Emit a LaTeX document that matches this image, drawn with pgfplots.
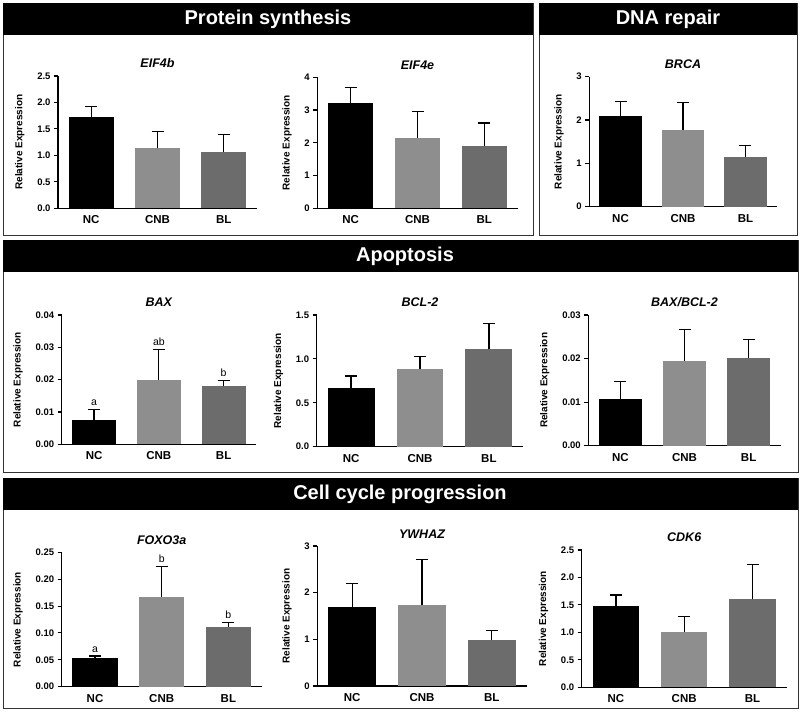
\documentclass[border=0pt]{standalone}
\usepackage{fontspec}
\setmainfont{Liberation Sans}
\usepackage{pgfplots}
\pgfplotsset{compat=1.18}

\definecolor{cnbgray}{RGB}{142,142,142}
\definecolor{blgray}{RGB}{108,108,108}

\pgfplotsset{
  panel/.style={
    scale only axis, anchor=south west,
    xmin=-0.5, xmax=2.5, ymin=0, enlargelimits=false,
    axis x line*=bottom, axis y line*=left,
    axis line style={line width=1.3pt, black},
    xtick={0,1,2}, xticklabels={NC,CNB,BL},
    xtick style={draw=none},
    ytick style={line width=1.1pt, black},
    tick align=outside, major tick length=4pt,
    xticklabel style={font=\fontsize{11.5}{13}\selectfont\bfseries},
    yticklabel style={font=\fontsize{9.5}{11}\selectfont\bfseries},
    /pgf/number format/assume math mode=true,
    scaled y ticks=false,
    ylabel={Relative Expression},
    ylabel style={font=\fontsize{10}{12}\selectfont\bfseries},
    ylabel shift=6pt,
    title style={font=\fontsize{12.5}{14}\selectfont\bfseries\itshape,
      at={(0.5,1)}, anchor=base, yshift=2pt},
    clip=false,
  },
  prec/.style={yticklabel style={/pgf/number format/.cd, fixed, fixed zerofill, precision=#1}},
  grp/.style={ybar, bar shift=0pt, bar width=0.68, fill=#1, draw=none,
    error bars/.cd, y dir=plus, y explicit,
    error bar style={line width=1.3pt, black},
    error mark options={rotate=90, line width=1.3pt, mark size=6pt, black}},
  nc/.style={grp=black},
  cnb/.style={grp=cnbgray},
  bl/.style={grp=blgray},
}
\tikzset{sig/.style={anchor=base, yshift=4pt, font=\fontsize{10.5}{12}\selectfont}}

\begin{document}
\begin{tikzpicture}[x=1pt, y=1pt]
\path[use as bounding box] (0,0) rectangle (800,720);

% panel frames and headers
\draw[line width=0.8pt, black!80] (3,485) rectangle (533,717);
\fill[black] (3,685) rectangle (533,717);
\node[white, font=\fontsize{20}{22}\selectfont\bfseries] at (268,701) {Protein synthesis};

\draw[line width=0.8pt, black!80] (539,485) rectangle (797,717);
\fill[black] (539,685) rectangle (797,717);
\node[white, font=\fontsize{20}{22}\selectfont\bfseries] at (668,701) {DNA repair};

\draw[line width=0.8pt, black!80] (3,248) rectangle (798,480);
\fill[black] (3,448) rectangle (798,480);
\node[white, font=\fontsize{20}{22}\selectfont\bfseries] at (405,464) {Apoptosis};

\draw[line width=0.8pt, black!80] (3,12) rectangle (798,242);
\fill[black] (3,210) rectangle (798,242);
\node[white, font=\fontsize{20}{22}\selectfont\bfseries] at (400,226) {Cell cycle progression};

% Protein synthesis
\begin{axis}[panel, at={(58pt,511.7pt)}, width=199pt, height=132.3pt,
  ymax=2.5, ytick={0,0.5,1,1.5,2,2.5}, prec=1, title={EIF4b}]
\addplot[nc] coordinates {(0,1.72) +- (0,0.20)};
\addplot[cnb] coordinates {(1,1.13) +- (0,0.32)};
\addplot[bl] coordinates {(2,1.06) +- (0,0.33)};
\end{axis}

\begin{axis}[panel, at={(317.3pt,511.7pt)}, width=200.4pt, height=131pt,
  ymax=4, ytick={0,1,2,3,4}, prec=0, title={EIF4e}]
\addplot[nc] coordinates {(0,3.20) +- (0,0.48)};
\addplot[cnb] coordinates {(1,2.16) +- (0,0.79)};
\addplot[bl] coordinates {(2,1.91) +- (0,0.69)};
\end{axis}

% DNA repair
\begin{axis}[panel, at={(589.3pt,513.3pt)}, width=187.4pt, height=130pt,
  ymax=3, ytick={0,1,2,3}, prec=0, title={BRCA}]
\addplot[nc] coordinates {(0,2.09) +- (0,0.33)};
\addplot[cnb] coordinates {(1,1.77) +- (0,0.63)};
\addplot[bl] coordinates {(2,1.14) +- (0,0.27)};
\end{axis}

% Apoptosis
\begin{axis}[panel, at={(61.7pt,275.7pt)}, width=194.3pt, height=129.3pt,
  ymax=0.04, ytick={0,0.01,0.02,0.03,0.04}, prec=2, title={BAX}]
\addplot[nc] coordinates {(0,0.0075) +- (0,0.0032)};
\addplot[cnb] coordinates {(1,0.0199) +- (0,0.0095)};
\addplot[bl] coordinates {(2,0.0179) +- (0,0.0019)};
\node[sig] at (axis cs:0,0.0107) {a};
\node[sig] at (axis cs:1,0.0294) {ab};
\node[sig] at (axis cs:2,0.0198) {b};
\end{axis}

\begin{axis}[panel, at={(316.7pt,273.3pt)}, width=206.6pt, height=131.7pt,
  ymax=1.5, ytick={0,0.5,1,1.5}, prec=1, title={BCL-2}]
\addplot[nc] coordinates {(0,0.672) +- (0,0.133)};
\addplot[cnb] coordinates {(1,0.885) +- (0,0.145)};
\addplot[bl] coordinates {(2,1.109) +- (0,0.296)};
\end{axis}

\begin{axis}[panel, at={(588.3pt,274.3pt)}, width=192.4pt, height=130.7pt,
  ymax=0.03, ytick={0,0.01,0.02,0.03}, prec=2, title={BAX/BCL-2}]
\addplot[nc] coordinates {(0,0.0108) +- (0,0.0039)};
\addplot[cnb] coordinates {(1,0.0195) +- (0,0.0071)};
\addplot[bl] coordinates {(2,0.0202) +- (0,0.0042)};
\end{axis}

% Cell cycle progression
\begin{axis}[panel, at={(61.7pt,33.3pt)}, width=200pt, height=134.4pt,
  ymax=0.25, ytick={0,0.05,0.1,0.15,0.2,0.25}, prec=2, title={FOXO3a}]
\addplot[nc] coordinates {(0,0.0527) +- (0,0.0043)};
\addplot[cnb] coordinates {(1,0.1675) +- (0,0.0555)};
\addplot[bl] coordinates {(2,0.1117) +- (0,0.0080)};
\node[sig] at (axis cs:0,0.057) {a};
\node[sig] at (axis cs:1,0.223) {b};
\node[sig] at (axis cs:2,0.1197) {b};
\end{axis}

\begin{axis}[panel, at={(317.3pt,34pt)}, width=209.4pt, height=140pt,
  ymax=3, ytick={0,1,2,3}, prec=0, title={YWHAZ}]
\addplot[nc] coordinates {(0,1.686) +- (0,0.514)};
\addplot[cnb] coordinates {(1,1.736) +- (0,0.978)};
\addplot[bl] coordinates {(2,0.986) +- (0,0.207)};
\end{axis}

\begin{axis}[panel, at={(581.7pt,32.7pt)}, width=205pt, height=137.3pt,
  ymax=2.5, ytick={0,0.5,1,1.5,2,2.5}, prec=1, title={CDK6}]
\addplot[nc] coordinates {(0,1.48) +- (0,0.20)};
\addplot[cnb] coordinates {(1,1.013) +- (0,0.273)};
\addplot[bl] coordinates {(2,1.60) +- (0,0.64)};
\end{axis}
\end{tikzpicture}
\end{document}
